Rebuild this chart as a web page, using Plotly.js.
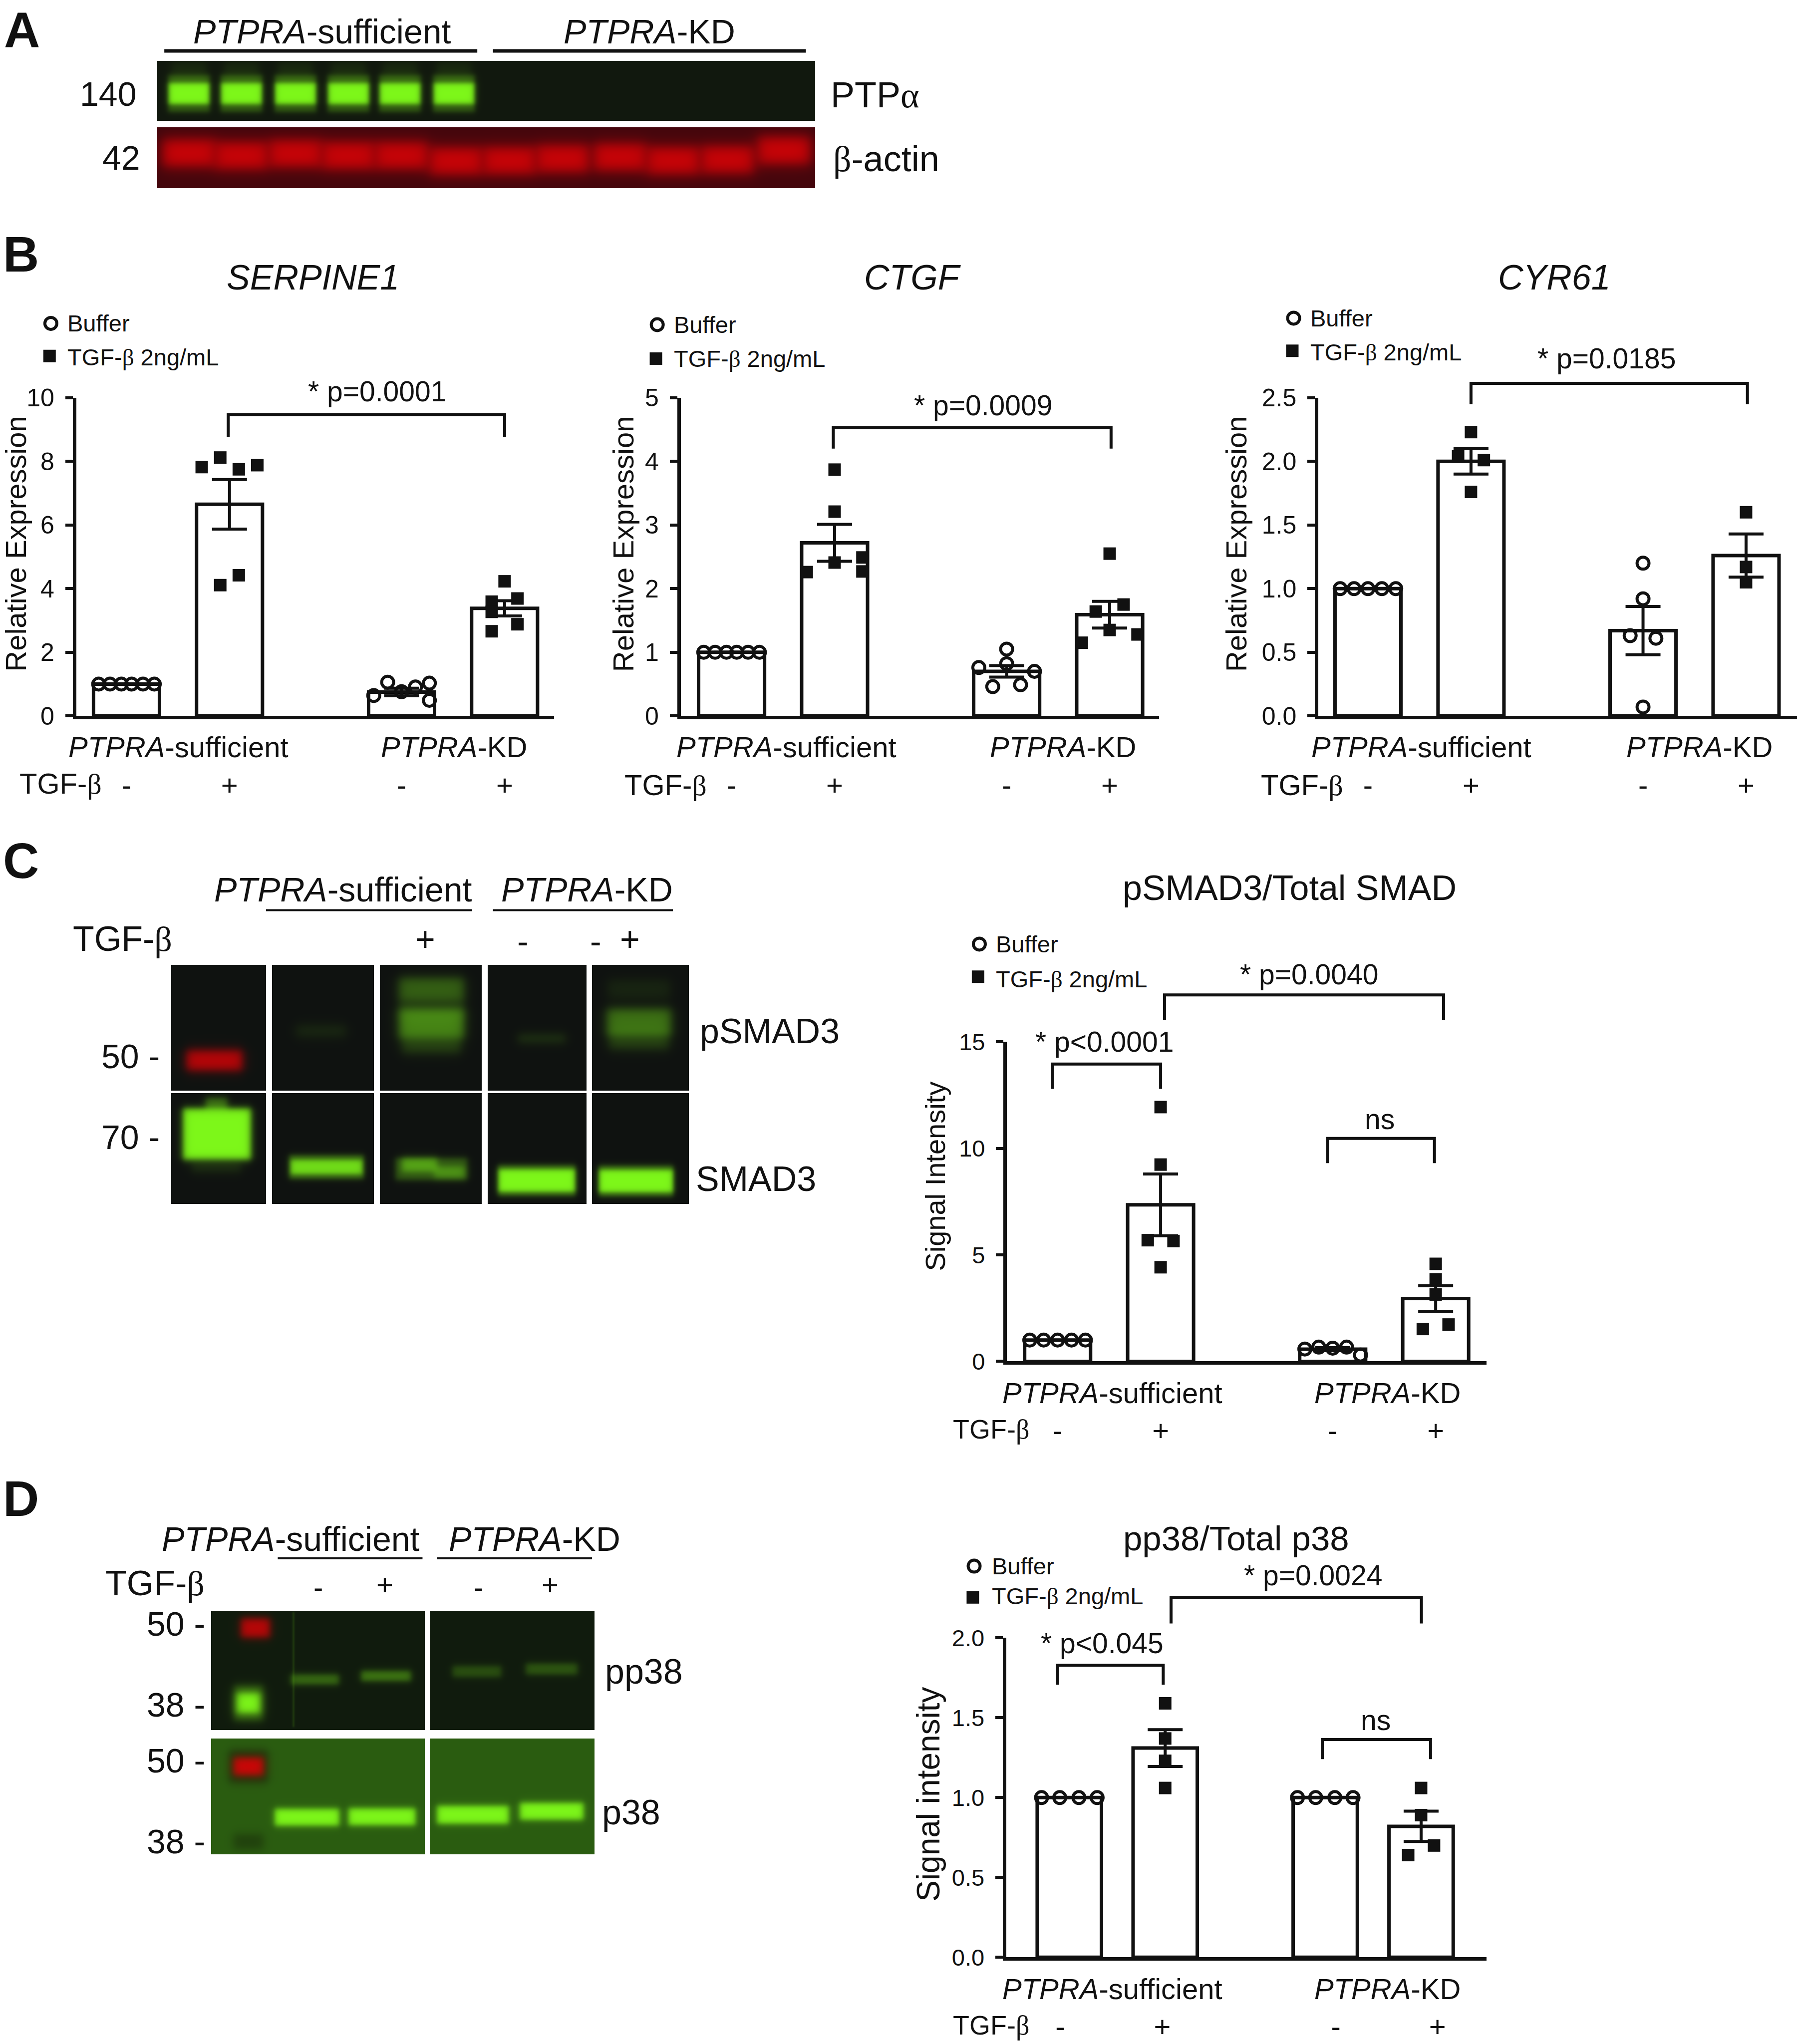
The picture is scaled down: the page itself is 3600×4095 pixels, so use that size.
<!DOCTYPE html>
<html>
<head>
<meta charset="utf-8">
<script src="https://cdn.plot.ly/plotly-3.0.1.min.js"></script>
<style>body { margin: 0; background: white; }</style>
</head>
<body>
<div id="plot" style="width:3600px;height:4095px;"></div>
<script>
// bar values: means and SEM, one entry per bar
var barOrder = ["sufficient -", "sufficient +", "KD -", "KD +"]
var barX = [0, 1, 2.67, 3.67]

var serpineMeans = [1, 6.65, 0.75, 3.38]
var serpineSem = [0, 0.78, 0.12, 0.24]
var ctgfMeans = [1, 2.72, 0.70, 1.59]
var ctgfSem = [0, 0.29, 0.09, 0.21]
var cyrMeans = [1, 2.0, 0.67, 1.26]
var cyrSem = [0, 0.10, 0.19, 0.17]
var smadMeans = [1, 7.35, 0.57, 2.95]
var smadSem = [0, 1.45, 0.07, 0.60]
var p38Means = [1, 1.31, 1, 0.82]
var p38Sem = [0, 0.115, 0, 0.095]

// individual replicates per bar, with their sideways offset from the bar centre
var serpineY = [[1, 1, 1, 1, 1, 1], [7.82, 8.12, 7.75, 7.88, 4.11, 4.42], [0.64, 1.06, 0.76, 0.91, 1.03, 0.49], [3.59, 4.23, 3.69, 3.27, 2.88, 2.66]]
var serpineOff = [[-0.27, -0.16, -0.05, 0.05, 0.16, 0.27], [-0.27, -0.09, 0.09, 0.27, -0.09, 0.09], [-0.27, -0.135, 0, 0.135, 0.27, 0.27], [-0.125, 0, 0.125, -0.125, 0.125, -0.125]]
var ctgfY = [[1, 1, 1, 1, 1, 1], [3.87, 3.21, 2.41, 2.49, 2.27, 2.26], [1.05, 0.82, 0.76, 0.70, 0.46, 0.49], [2.55, 1.75, 1.64, 1.35, 1.28, 1.15]]
var ctgfOff = [[-0.27, -0.16, -0.05, 0.05, 0.16, 0.27], [0, 0, 0, 0.27, 0.27, -0.27], [0, 0, -0.27, 0.27, -0.135, 0.135], [0, 0.135, -0.135, 0, 0.27, -0.27]]
var cyrY = [[1, 1, 1, 1, 1], [2.23, 2.04, 2.01, 1.76], [1.20, 0.92, 0.63, 0.61, 0.07], [1.60, 1.17, 1.05]]
var cyrOff = [[-0.27, -0.135, 0, 0.135, 0.27], [0, -0.125, 0.125, 0], [0, 0, -0.125, 0.125, 0], [0, 0, 0]]
var smadY = [[1, 1, 1, 1, 1], [11.94, 9.24, 5.69, 5.65, 4.42], [0.58, 0.67, 0.62, 0.67, 0.30], [4.58, 3.85, 3.14, 1.73, 1.52]]
var smadOff = [[-0.27, -0.135, 0, 0.135, 0.27], [0, 0, -0.125, 0.125, 0], [-0.27, -0.135, 0, 0.135, 0.27], [0, 0, 0, 0.125, -0.125]]
var p38Y = [[1, 1, 1, 1], [1.59, 1.37, 1.23, 1.06], [1, 1, 1, 1], [1.06, 0.89, 0.70, 0.64]]
var p38Off = [[-0.29, -0.1, 0.1, 0.29], [0, 0, 0, 0], [-0.29, -0.1, 0.1, 0.29], [0, 0, 0.135, -0.135]]

var tgfTicks = ["-", "+", "-", "+"]
// in the last chart the -/+ labels do not sit under the bars
var p38TickX = [-0.095, 0.97, 2.78, 3.84]

// page helpers: k converts the 1378 wide working coordinates to the real page
var W = 3600, H = 4095, k = W / 1378
var FONT = "Liberation Sans, Arial, sans-serif"
var INK = "#111111"
var BETA = "<span style=\"font-family:'Liberation Serif'\">β</span>"
var ALPHA = "<span style=\"font-family:'Liberation Serif'\">α</span>"

var traces = []
var annotations = []
var shapes = []
var layout = {
  width: W, height: H,
  margin: {l: 0, r: 0, t: 0, b: 0},
  paper_bgcolor: "white", plot_bgcolor: "rgba(0,0,0,0)",
  showlegend: false,
  font: {family: FONT, color: INK}
}

function note(text, x, y, size, anchor, angle) {
  annotations.push({
    text: text, xref: "paper", yref: "paper",
    x: x * k / W, y: 1 - y * k / H,
    xanchor: anchor || "center", yanchor: "middle",
    showarrow: false, textangle: angle || 0,
    font: {size: size, family: FONT, color: INK}
  })
}

function bracket(x0, x1, yTop, yBottom) {
  var px = function(v) { return v * k / W }
  var py = function(v) { return 1 - v * k / H }
  shapes.push({
    type: "path", xref: "paper", yref: "paper",
    path: "M " + px(x0) + " " + py(yBottom) + " L " + px(x0) + " " + py(yTop) +
      " L " + px(x1) + " " + py(yTop) + " L " + px(x1) + " " + py(yBottom),
    line: {color: INK, width: 6}
  })
}

function underline(x0, x1, y, width) {
  shapes.push({
    type: "line", xref: "paper", yref: "paper",
    x0: x0 * k / W, x1: x1 * k / W, y0: 1 - y * k / H, y1: 1 - y * k / H,
    line: {color: INK, width: width}
  })
}

// one bar panel. opt holds its axis box in working coordinates
function addPanel(n, means, sem, ys, offs, opt) {
  var xName = "x" + n, yName = "y" + n
  traces.push({
    type: "bar", x: barX, y: means, width: opt.barWidth, xaxis: xName, yaxis: yName,
    marker: {color: "white", line: {color: INK, width: 7}},
    error_y: {type: "data", array: sem, visible: true, color: INK, thickness: 6, width: 35},
    customdata: barOrder
  })
  var kinds = [[0, 2, "Buffer", "circle-open"], [1, 3, "TGF-β 2ng/mL", "square"]]
  kinds.forEach(function(kind) {
    var xs = [], vals = []
    kind.slice(0, 2).forEach(function(g) {
      ys[g].forEach(function(v, i) {
        xs.push(barX[g] + offs[g][i])
        vals.push(v)
      })
    })
    traces.push({
      type: "scatter", mode: "markers", name: kind[2], x: xs, y: vals, xaxis: xName, yaxis: yName,
      cliponaxis: false,
      marker: kind[3] == "square"
        ? {symbol: "square", size: 25, color: INK}
        : {symbol: "circle-open", size: 24, line: {color: INK, width: 6}, color: INK}
    })
  })
  layout["xaxis" + n] = {
    domain: [opt.left * k / W, opt.right * k / W], anchor: yName,
    range: [(opt.left - opt.c0) / opt.sp, (opt.right - opt.c0) / opt.sp],
    tickmode: "array", tickvals: opt.tickX || barX, ticktext: tgfTicks,
    ticks: "", ticklabelstandoff: 82,
    tickfont: {size: 58, family: FONT, color: INK},
    showline: true, linecolor: INK, linewidth: 7, showgrid: false, zeroline: false
  }
  layout["yaxis" + n] = {
    domain: [1 - opt.bottom * k / H, 1 - opt.top * k / H], anchor: xName,
    range: [0, opt.yMax], tickmode: "linear", tick0: 0, dtick: opt.dtick,
    tickformat: opt.tickformat || "",
    ticks: "outside", ticklen: 15, tickwidth: 6, tickcolor: INK, ticklabelstandoff: 12,
    tickfont: {size: opt.tickSize || 50, family: FONT, color: INK},
    showline: true, linecolor: INK, linewidth: 7, showgrid: false, zeroline: false
  }
}

var barsB = {barWidth: 0.64, sp: 79}

addPanel(1, serpineMeans, serpineSem, serpineY, serpineOff, Object.assign({left: 58.5, right: 425, top: 305, bottom: 549, c0: 97, yMax: 10, dtick: 2}, barsB))
addPanel(2, ctgfMeans, ctgfSem, ctgfY, ctgfOff, Object.assign({left: 522, right: 889, top: 305, bottom: 549, c0: 561, yMax: 5, dtick: 1}, barsB))
addPanel(3, cyrMeans, cyrSem, cyrY, cyrOff, Object.assign({left: 1011, right: 1378, top: 305, bottom: 549, c0: 1049, yMax: 2.5, dtick: 0.5, tickformat: ".1f"}, barsB))
addPanel(4, smadMeans, smadSem, smadY, smadOff, Object.assign({left: 772, right: 1140, top: 799, bottom: 1044, c0: 811, yMax: 15, dtick: 5, tickSize: 47}, barsB))
addPanel(5, p38Means, p38Sem, p38Y, p38Off, {barWidth: 0.67, sp: 73.5, left: 771.5, right: 1140, top: 1256, bottom: 1501, c0: 820, yMax: 2, dtick: 0.5, tickformat: ".1f", tickSize: 47, tickX: p38TickX})

// page sized axes for the blots and legend keys, in page pixels
layout.xaxis6 = {domain: [0, 1], range: [0, W], visible: false, anchor: "y6"}
layout.yaxis6 = {domain: [0, 1], range: [H, 0], visible: false, anchor: "x6"}

var GREEN = [125, 247, 25], RED = [214, 2, 6]

function soft(v, lo, hi, blur) {
  return 0.5 * (Math.tanh((v - lo) / blur) - Math.tanh((v - hi) / blur))
}

// bands are [centre x, centre y, width, height, blur, strength, colour], in page pixels
function addBlot(x0, x1, y0, y1, bg, bands) {
  var step = 2, z = []
  for (var y = y0; y < y1; y += step) {
    var row = []
    for (var x = x0; x < x1; x += step) {
      var c = bg.slice()
      bands.forEach(function(b) {
        var f = b[5] * soft(x, b[0] - b[2] / 2, b[0] + b[2] / 2, b[4]) * soft(y, b[1] - b[3] / 2, b[1] + b[3] / 2, b[4])
        var col = b[6] || GREEN
        c = [c[0] + (col[0] - c[0]) * f, c[1] + (col[1] - c[1]) * f, c[2] + (col[2] - c[2]) * f]
      })
      row.push([Math.round(c[0]), Math.round(c[1]), Math.round(c[2])])
    }
    z.push(row)
  }
  traces.push({type: "image", z: z, x0: x0, y0: y0, dx: step, dy: step, xaxis: "x6", yaxis: "y6", hoverinfo: "skip"})
}

// panel A
var laneA = [379, 484, 592, 698, 801, 909]
var ptpBands = []
laneA.forEach(function(x) {
  ptpBands.push([x, 155, 70, 60, 9, 0.08])
  ptpBands.push([x, 187, 84, 74, 6, 0.28])
  ptpBands.push([x, 187, 80, 42, 6, 1])
})
addBlot(316, 1634, 123, 243, [17, 24, 14], ptpBands)

var laneActin = [379, 484, 592, 698, 804, 913, 1020, 1127, 1242, 1349, 1458, 1571]
var actinY = [307, 312, 308, 312, 312, 323, 322, 318, 315, 322, 320, 302]
var actinBands = laneActin.map(function(x, i) { return [x, actinY[i], 106, 54, 15, 0.92, RED] })
addBlot(316, 1634, 256, 378, [68, 6, 12], actinBands)

// panel C
var bgC = [15, 18, 16]
addBlot(344, 534, 1934, 2185, bgC, [[430, 2124, 112, 40, 11, 0.85, RED]])
addBlot(546, 750, 1934, 2185, bgC, [[643, 2065, 100, 22, 12, 0.1]])
addBlot(762, 966, 1934, 2185, bgC, [[864, 1981, 130, 44, 12, 0.34], [864, 2020, 130, 40, 12, 0.12], [864, 2050, 130, 58, 12, 0.5], [864, 2092, 118, 34, 12, 0.2]])
addBlot(978, 1176, 1934, 2185, bgC, [[1085, 2080, 96, 18, 10, 0.13]])
addBlot(1187, 1380, 1934, 2185, bgC, [[1280, 1981, 125, 36, 12, 0.08], [1280, 2047, 128, 52, 12, 0.42], [1280, 2082, 120, 38, 12, 0.2]])

addBlot(344, 534, 2191, 2412, bgC, [[435, 2272, 136, 102, 8, 1], [434, 2215, 44, 30, 8, 0.4], [434, 2336, 100, 24, 10, 0.12]])
addBlot(546, 750, 2191, 2412, bgC, [[654, 2338, 150, 48, 6, 0.35], [654, 2338, 142, 28, 6, 0.82]])
addBlot(762, 966, 2191, 2412, bgC, [[864, 2342, 144, 44, 7, 0.3], [840, 2334, 70, 26, 8, 0.5], [900, 2348, 60, 22, 8, 0.4]])
addBlot(978, 1176, 2191, 2412, bgC, [[1075, 2365, 157, 62, 6, 0.35], [1075, 2365, 152, 44, 6, 1]])
addBlot(1187, 1380, 2191, 2412, bgC, [[1274, 2366, 150, 62, 6, 0.35], [1274, 2366, 146, 44, 6, 1]])

// panel D
var bgD1 = [16, 27, 13], bgD2 = [42, 92, 16]
addBlot(424, 851, 3229, 3466, bgD1, [
  [512, 3262, 58, 38, 9, 0.85, RED],
  [498, 3412, 60, 70, 9, 0.3], [498, 3412, 46, 40, 9, 1],
  [588, 3345, 3, 230, 2, 0.18],
  [631, 3365, 96, 20, 7, 0.36], [773, 3358, 100, 20, 7, 0.42]
])
addBlot(862, 1192, 3229, 3466, bgD1, [[955, 3349, 98, 22, 7, 0.24], [1105, 3344, 104, 22, 7, 0.27]])
addBlot(424, 851, 3484, 3715, bgD2, [
  [498, 3539, 78, 66, 10, 0.6, [20, 25, 8]], [498, 3539, 60, 36, 9, 0.95, RED],
  [498, 3690, 60, 30, 10, 0.45, [20, 30, 8]],
  [615, 3641, 129, 34, 7, 1], [765, 3640, 134, 34, 7, 1]
])
addBlot(862, 1192, 3484, 3715, bgD2, [[947, 3636, 144, 36, 7, 1], [1105, 3629, 128, 34, 7, 1]])

// legend keys
var keyCirclesX = [39, 504, 992, 751, 747], keyCirclesY = [248, 249, 244, 724, 1201]
var keySquaresX = [38, 503, 991, 750, 746], keySquaresY = [273, 275, 269, 749, 1225]
traces.push({
  type: "scatter", mode: "markers", xaxis: "x6", yaxis: "y6", name: "Buffer",
  x: keyCirclesX.map(function(v) { return v * k }), y: keyCirclesY.map(function(v) { return v * k }),
  marker: {symbol: "circle-open", size: 24, line: {color: INK, width: 6}, color: INK}
})
traces.push({
  type: "scatter", mode: "markers", xaxis: "x6", yaxis: "y6", name: "TGF-β 2ng/mL",
  x: keySquaresX.map(function(v) { return v * k }), y: keySquaresY.map(function(v) { return v * k }),
  marker: {symbol: "square", size: 25, color: INK}
})

var buf = "Buffer", tgfKey = "TGF-" + BETA + " 2ng/mL", tgf = "TGF-" + BETA
var suf = "<i>PTPRA</i>-sufficient", kd = "<i>PTPRA</i>-KD"

// panel letters
note("<b>A</b>", 17, 23, 100); note("<b>B</b>", 16, 195, 100); note("<b>C</b>", 16, 660, 100); note("<b>D</b>", 16, 1149, 100)

// panel A text
note(suf, 247, 24, 68); note(kd, 498, 24, 68)
underline(126, 366, 39, 7); underline(378, 618, 39, 7)
note("140", 83, 72, 68); note("42", 93, 121, 68)
note("PTP" + ALPHA, 636, 73, 72, "left"); note(BETA + "-actin", 638, 122, 72, "left")

// panel B text
note("<i>SERPINE1</i>", 240, 213, 70); note("<i>CTGF</i>", 700, 213, 70); note("<i>CYR61</i>", 1192, 213, 70)
note(buf, 51, 248, 47, "left"); note(tgfKey, 51, 274, 47, "left")
note(buf, 516, 249, 47, "left"); note(tgfKey, 516, 275, 47, "left")
note(buf, 1004, 244, 47, "left"); note(tgfKey, 1004, 270, 47, "left")
note("* p=0.0001", 289, 300, 57); bracket(175, 387, 318, 335)
note("* p=0.0009", 754, 311, 57); bracket(639, 852, 328, 344)
note("* p=0.0185", 1232, 275, 57); bracket(1128, 1340, 294, 310)
note("Relative Expression", 12, 417, 58, "center", -90)
note("Relative Expression", 478, 417, 58, "center", -90)
note("Relative Expression", 948, 417, 58, "center", -90)
note(suf, 137, 573, 58); note(kd, 348, 573, 58); note(tgf, 14, 601, 58, "left")
note(suf, 603, 573, 58); note(kd, 815, 573, 58); note(tgf, 478, 602, 58, "left")
note(suf, 1090, 573, 58); note(kd, 1303, 573, 58); note(tgf, 966, 602, 58, "left")

// panel C text
note(suf, 263, 682, 68); note(kd, 450, 682, 68)
underline(204, 362, 698, 4); underline(378, 516, 698, 4)
note(tgf, 55, 720, 70, "left")
note("+", 326, 720, 68); note("-", 401, 722, 68); note("-", 457, 722, 68); note("+", 483, 720, 68)
note("50 -", 100, 810, 68); note("70 -", 100, 872, 68)
note("pSMAD3", 536, 791, 70, "left"); note("SMAD3", 533, 904, 70, "left")
note("pSMAD3/Total SMAD", 989, 681, 70)
note(buf, 763, 724, 47, "left"); note(tgfKey, 763, 751, 47, "left")
note("* p=0.0040", 1004, 747, 57); bracket(893, 1107, 763, 782)
note("* p<0.0001", 847, 799, 57); bracket(807, 890, 816, 835)
note("ns", 1058, 858, 57); bracket(1018, 1100, 873, 892)
note("Signal Intensity", 717, 902, 56, "center", -90)
note(suf, 853, 1068, 58); note(kd, 1064, 1068, 58); note(tgf, 730, 1096, 54, "left")

// panel D text
note(suf, 223, 1180, 68); note(kd, 410, 1180, 68)
underline(213, 324, 1195, 4); underline(335, 454, 1195, 4)
note(tgf, 80, 1214, 70, "left")
note("-", 244, 1217, 58); note("+", 295, 1215, 58); note("-", 367, 1217, 58); note("+", 422, 1215, 58)
note("50 -", 135, 1245, 68); note("38 -", 135, 1307, 68); note("50 -", 135, 1350, 68); note("38 -", 135, 1412, 68)
note("pp38", 463, 1282, 70, "left"); note("p38", 461, 1390, 70, "left")
note("pp38/Total p38", 948, 1180, 69)
note(buf, 760, 1201, 47, "left"); note(tgfKey, 760, 1224, 47, "left")
note("* p=0.0024", 1007, 1208, 57); bracket(898, 1090, 1225, 1245)
note("* p<0.045", 845, 1260, 57); bracket(811, 892, 1277, 1292)
note("ns", 1055, 1319, 57); bracket(1014, 1097, 1334, 1349)
note("Signal intensity", 712, 1376, 64, "center", -90)
note(suf, 853, 1525, 58); note(kd, 1064, 1525, 58); note(tgf, 730, 1553, 54, "left")

layout.annotations = annotations
layout.shapes = shapes

Plotly.newPlot("plot", traces, layout, {displayModeBar: false})
</script>
</body>
</html>
